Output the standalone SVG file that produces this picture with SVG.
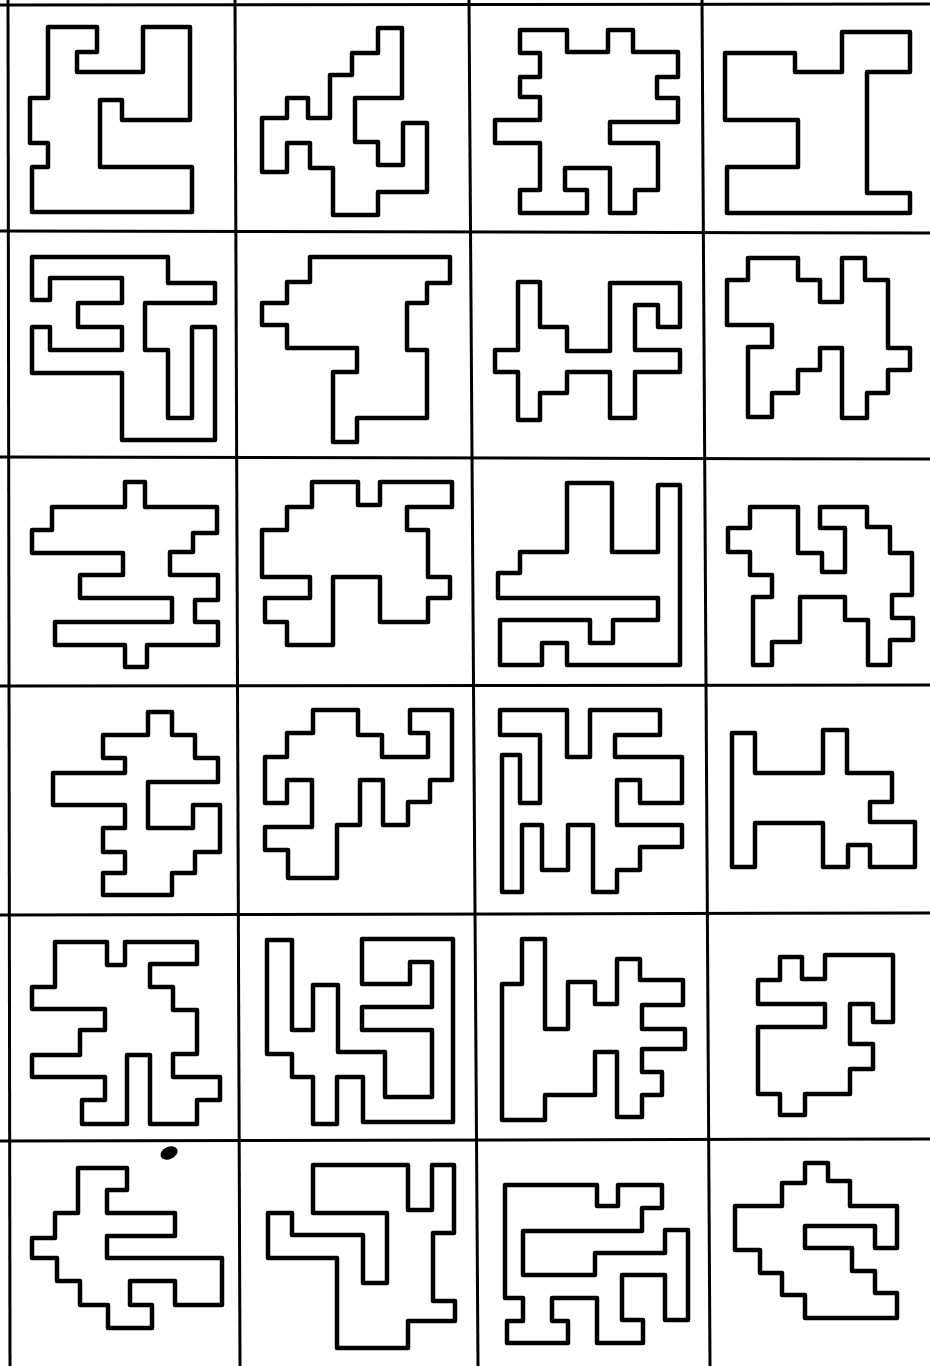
<svg xmlns="http://www.w3.org/2000/svg" width="930" height="1366" viewBox="0 0 930 1366">
<style>
.shape{fill:none;stroke:#000;stroke-width:4.5;stroke-linejoin:round;stroke-linecap:round}
.grid line{stroke:#000;stroke-width:3}
</style>
<rect x="0" y="0" width="930" height="1366" fill="#fff"/>
<g class="grid" id="grid">
<line x1="0" y1="5" x2="930" y2="4"/>
<line x1="0" y1="231" x2="930" y2="233"/>
<line x1="0" y1="457" x2="930" y2="459"/>
<line x1="0" y1="686" x2="930" y2="685"/>
<line x1="0" y1="915" x2="930" y2="913"/>
<line x1="0" y1="1141" x2="930" y2="1139"/>
<line x1="8" y1="0" x2="10" y2="1366"/>
<line x1="235" y1="0" x2="240" y2="1366"/>
<line x1="469" y1="0" x2="478" y2="1366"/>
<line x1="702" y1="0" x2="710" y2="1366"/>
</g>
<g id="r1c1"><polygon class="shape" points="48,27 97,27 97,52 77,52 77,72 143,72 143,27 190,27 190,120 122,120 122,100 100,100 100,167 192,167 192,212 32,212 32,167 48,167 48,143 30,143 30,98 48,98"/></g>
<g id="r1c2"><polygon class="shape" points="378,28 402,28 402,98 355,98 355,142 378,142 378,165 403,165 403,123 427,123 427,192 378,192 378,215 333,215 333,168 310,168 310,143 287,143 287,172 262,172 262,118 287,118 287,98 308,98 308,118 330,118 330,75 352,75 352,53 378,53"/></g>
<g id="r1c3"><polygon class="shape" points="520,30 567,30 567,52 608,52 608,30 633,30 633,52 678,52 678,77 657,77 657,98 678,98 678,122 610,122 610,143 658,143 658,190 635,190 635,213 610,213 610,168 565,168 565,190 587,190 587,213 520,213 520,190 540,190 540,143 495,143 495,120 540,120 540,97 520,97 520,77 540,77 540,53 520,53"/></g>
<g id="r1c4"><polygon class="shape" points="725,53 795,53 795,72 842,72 842,32 910,32 910,72 867,72 867,193 910,193 910,213 727,213 727,167 798,167 798,120 725,120"/></g>
<g id="r2c1"><polygon class="shape" points="32,257 168,257 168,283 215,283 215,303 145,303 145,350 168,350 168,418 192,418 192,327 215,327 215,440 122,440 122,373 32,373 32,327 50,327 50,350 122,350 122,327 78,327 78,303 122,303 122,278 50,278 50,300 32,300"/></g>
<g id="r2c2"><polygon class="shape" points="310,257 450,257 450,283 427,283 427,303 407,303 407,350 427,350 427,418 357,418 357,442 333,442 333,372 357,372 357,348 287,348 287,325 262,325 262,303 287,303 287,282 310,282"/></g>
<g id="r2c3"><polygon class="shape" points="518,282 540,282 540,327 567,327 567,351 610,351 610,283 680,283 680,327 658,327 658,305 635,305 635,350 680,350 680,372 635,372 635,418 610,418 610,372 567,372 567,393 540,393 540,420 518,420 518,372 495,372 495,350 518,350"/></g>
<g id="r2c4"><polygon class="shape" points="748,258 798,258 798,280 820,280 820,302 842,302 842,258 865,258 865,280 888,280 888,348 910,348 910,370 888,370 888,393 867,393 867,418 842,418 842,348 820,348 820,370 798,370 798,393 772,393 772,417 748,417 748,347 772,347 772,325 727,325 727,280 748,280"/></g>
<g id="r3c1"><polygon class="shape" points="125,482 145,482 145,507 217,507 217,533 193,533 193,552 170,552 170,575 218,575 218,600 195,600 195,622 218,622 218,645 147,645 147,667 125,667 125,645 55,645 55,622 172,622 172,598 80,598 80,575 123,575 123,553 32,553 32,530 52,530 52,507 125,507"/></g>
<g id="r3c2"><polygon class="shape" points="312,482 358,482 358,505 380,505 380,482 452,482 452,507 407,507 407,530 428,530 428,577 450,577 450,598 428,598 428,622 380,622 380,577 333,577 333,645 287,645 287,622 265,622 265,598 310,598 310,577 262,577 262,530 287,530 287,507 312,507"/></g>
<g id="r3c3"><polygon class="shape" points="567,483 612,483 612,552 658,552 658,485 680,485 680,665 567,665 567,643 542,643 542,665 500,665 500,620 590,620 590,643 613,643 613,620 658,620 658,598 498,598 498,573 520,573 520,552 567,552"/></g>
<g id="r3c4"><polygon class="shape" points="750,507 798,507 798,553 822,553 822,572 845,572 845,528 820,528 820,507 867,507 867,527 890,527 890,553 912,553 912,595 892,595 892,618 913,618 913,640 890,640 890,665 868,665 868,620 845,620 845,597 800,597 800,642 772,642 772,665 753,665 753,597 772,597 772,575 750,575 750,552 728,552 728,528 750,528"/></g>
<g id="r4c1"><polygon class="shape" points="148,712 172,712 172,735 195,735 195,758 218,758 218,782 148,782 148,828 193,828 193,805 220,805 220,852 195,852 195,873 172,873 172,895 103,895 103,873 125,873 125,852 103,852 103,828 125,828 125,805 53,805 53,773 125,773 125,758 103,758 103,735 148,735"/></g>
<g id="r4c2"><polygon class="shape" points="313,710 358,710 358,735 382,735 382,757 428,757 428,733 410,733 410,710 452,710 452,780 430,780 430,802 408,802 408,825 383,825 383,780 360,780 360,825 337,825 337,878 288,878 288,850 265,850 265,827 312,827 312,780 287,780 287,803 265,803 265,757 287,757 287,733 313,733"/></g>
<g id="r4c3"><polygon class="shape" points="500,710 567,710 567,757 590,757 590,710 660,710 660,735 615,735 615,757 682,757 682,803 640,803 640,780 617,780 617,825 682,825 682,847 640,847 640,870 617,870 617,892 593,892 593,825 568,825 568,870 542,870 542,825 522,825 522,892 502,892 502,755 520,755 520,803 540,803 540,735 500,735"/></g>
<g id="r4c4"><polygon class="shape" points="732,733 755,733 755,773 823,773 823,730 847,730 847,773 892,773 892,802 870,802 870,822 915,822 915,867 870,867 870,845 848,845 848,867 823,867 823,823 755,823 755,867 732,867"/></g>
<g id="r5c1"><polygon class="shape" points="55,942 107,942 107,965 125,965 125,942 197,942 197,964 150,964 150,987 173,987 173,1010 197,1010 197,1054 173,1054 173,1077 220,1077 220,1100 197,1100 197,1124 150,1124 150,1055 127,1055 127,1124 82,1124 82,1100 105,1100 105,1077 32,1077 32,1055 80,1055 80,1030 105,1030 105,1009 32,1009 32,987 55,987"/></g>
<g id="r5c2"><polygon class="shape" points="267,940 292,940 292,1030 313,1030 313,985 338,985 338,1052 385,1052 385,1097 432,1097 432,1030 362,1030 362,1007 432,1007 432,962 410,962 410,984 362,984 362,939 453,939 453,1122 363,1122 363,1077 337,1077 337,1124 313,1124 313,1077 292,1077 292,1054 267,1054"/></g>
<g id="r5c3"><polygon class="shape" points="522,939 545,939 545,1029 568,1029 568,982 595,982 595,1004 617,1004 617,959 640,959 640,980 683,980 683,1005 642,1005 642,1029 685,1029 685,1049 642,1049 642,1072 662,1072 662,1095 642,1095 642,1117 617,1117 617,1052 595,1052 595,1095 545,1095 545,1120 502,1120 502,984 522,984"/></g>
<g id="r5c4"><polygon class="shape" points="780,957 802,957 802,979 825,979 825,955 893,955 893,1022 873,1022 873,1004 850,1004 850,1044 873,1044 873,1069 850,1069 850,1094 805,1094 805,1115 780,1115 780,1094 758,1094 758,1027 825,1027 825,1004 758,1004 758,980 780,980"/></g>
<g id="r6c1"><polygon class="shape" points="78,1168 127,1168 127,1190 107,1190 107,1213 175,1213 175,1236 107,1236 107,1258 222,1258 222,1305 175,1305 175,1281 130,1281 130,1305 152,1305 152,1328 108,1328 108,1305 80,1305 80,1281 57,1281 57,1258 32,1258 32,1238 55,1238 55,1213 78,1213"/>
<ellipse cx="169" cy="1153" rx="9" ry="6" transform="rotate(-25 169 1153)" fill="#000"/></g>
<g id="r6c2"><polygon class="shape" points="313,1165 408,1165 408,1210 432,1210 432,1165 454,1165 454,1233 433,1233 433,1301 455,1301 455,1321 408,1321 408,1348 337,1348 337,1258 268,1258 268,1213 292,1213 292,1235 363,1235 363,1283 387,1283 387,1213 313,1213"/></g>
<g id="r6c3"><polygon class="shape" points="505,1185 597,1185 597,1206 618,1206 618,1185 662,1185 662,1208 642,1208 642,1231 523,1231 523,1275 595,1275 595,1253 665,1253 665,1230 688,1230 688,1320 665,1320 665,1275 622,1275 622,1320 643,1320 643,1343 597,1343 597,1298 552,1298 552,1321 568,1321 568,1343 507,1343 507,1321 523,1321 523,1298 505,1298"/></g>
<g id="r6c4"><polygon class="shape" points="805,1163 828,1163 828,1181 850,1181 850,1206 897,1206 897,1248 875,1248 875,1226 805,1226 805,1248 852,1248 852,1271 875,1271 875,1293 897,1293 897,1318 805,1318 805,1295 782,1295 782,1273 760,1273 760,1250 735,1250 735,1206 782,1206 782,1183 805,1183"/></g>
</svg>
